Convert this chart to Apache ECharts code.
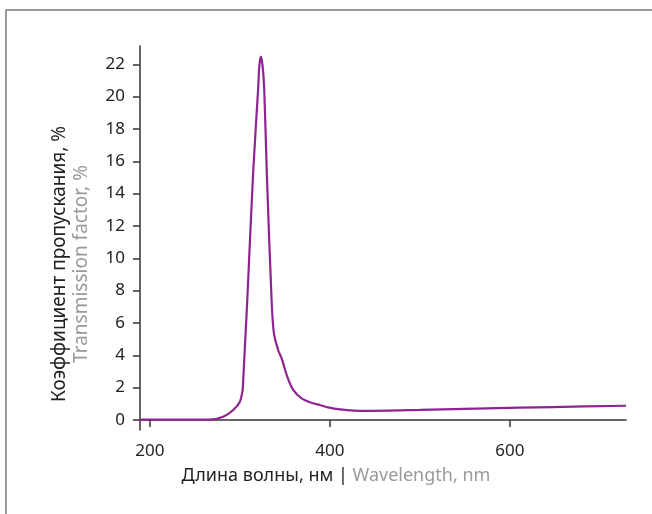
<!DOCTYPE html>
<html>
<head>
<meta charset="utf-8">
<script src="https://cdn.jsdelivr.net/npm/echarts@6/dist/echarts.min.js"></script>
<style>
html,body{margin:0;padding:0;background:#fff;}
#chart{width:652px;height:514px;}
</style>
</head>
<body>
<div id="chart"></div>
<script>
// Wavelength, nm
var wavelength = [189, 266.7, 281.4, 292.6, 300, 303, 303.7, 306.3, 308.2, 314.8, 320.3, 321.6, 323.3, 325.2, 327, 329.9, 335.2, 337.8, 342.6, 346.3, 352.6, 359.2, 368.6, 381.4, 388.9, 398.1, 411.1, 437, 500, 574, 647.8, 729];
// Transmission factor, %
var transmission = [0.02, 0.02, 0.2, 0.62, 1.13, 1.86, 2.47, 5.34, 7.42, 15.4, 20.5, 21.9, 22.47, 21.9, 20.5, 15.3, 7.42, 5.36, 4.31, 3.82, 2.68, 1.86, 1.34, 1.03, 0.93, 0.78, 0.66, 0.56, 0.62, 0.72, 0.80, 0.88];
var xTicks = [200, 400, 600];
var yTicks = [0, 2, 4, 6, 8, 10, 12, 14, 16, 18, 20, 22];

var points = wavelength.map(function (w, i) { return [w, transmission[i]]; });
var FONT = 'Noto Sans';
var chart = echarts.init(document.getElementById('chart'));
chart.setOption({
  animation: false,
  graphic: [{
    type: 'rect',
    shape: { x: 6, y: 10, width: 700, height: 600 },
    style: { fill: 'none', stroke: '#7a7a7a', lineWidth: 1.5 },
    silent: true
  }],
  grid: { left: 140, top: 46, right: 26, bottom: 84 },
  xAxis: {
    type: 'value',
    min: 189, max: 729,
    axisLine: { show: true, lineStyle: { color: '#333', width: 1.5 } },
    axisTick: { show: true, length: 7, customValues: xTicks, lineStyle: { color: '#333', width: 1.5 } },
    axisLabel: { customValues: xTicks, color: '#222', fontSize: 17, fontFamily: FONT, margin: 13 },
    splitLine: { show: false },
    name: '{a|Длина волны, нм}{s| | }{b|Wavelength, nm}',
    nameLocation: 'middle',
    nameGap: 34,
    nameTextStyle: {
      padding: [0, 94, 0, 0],
      lineHeight: 22,
      rich: {
        a: { color: '#222', fontSize: 18, fontFamily: FONT, lineHeight: 22 },
        s: { color: '#222', fontSize: 18, fontFamily: FONT, lineHeight: 22 },
        b: { color: '#999', fontSize: 18, fontFamily: FONT, lineHeight: 22 }
      }
    }
  },
  yAxis: {
    type: 'value',
    min: -0.62, max: 23.13,
    axisLine: { show: true, lineStyle: { color: '#333', width: 1.5 } },
    axisTick: { show: true, length: 7, customValues: yTicks, lineStyle: { color: '#333', width: 1.5 } },
    axisLabel: { customValues: yTicks, color: '#222', fontSize: 17, fontFamily: FONT, margin: 15 },
    splitLine: { show: false },
    name: '{a|Коэффициент пропускания, %}\n{b|Transmission factor, %}',
    nameLocation: 'middle',
    nameRotate: 90,
    nameGap: 47,
    nameTextStyle: {
      padding: [0, 52, 0, 0],
      lineHeight: 22,
      rich: {
        a: { color: '#222', fontSize: 19, fontFamily: FONT, lineHeight: 22 },
        b: { color: '#999', fontSize: 19, fontFamily: FONT, lineHeight: 22 }
      }
    }
  },
  series: [{
    type: 'line',
    data: points,
    smooth: 0.3,
    showSymbol: false,
    lineStyle: { color: '#8e2392', width: 2.2 }
  }]
});
</script>
</body>
</html>
